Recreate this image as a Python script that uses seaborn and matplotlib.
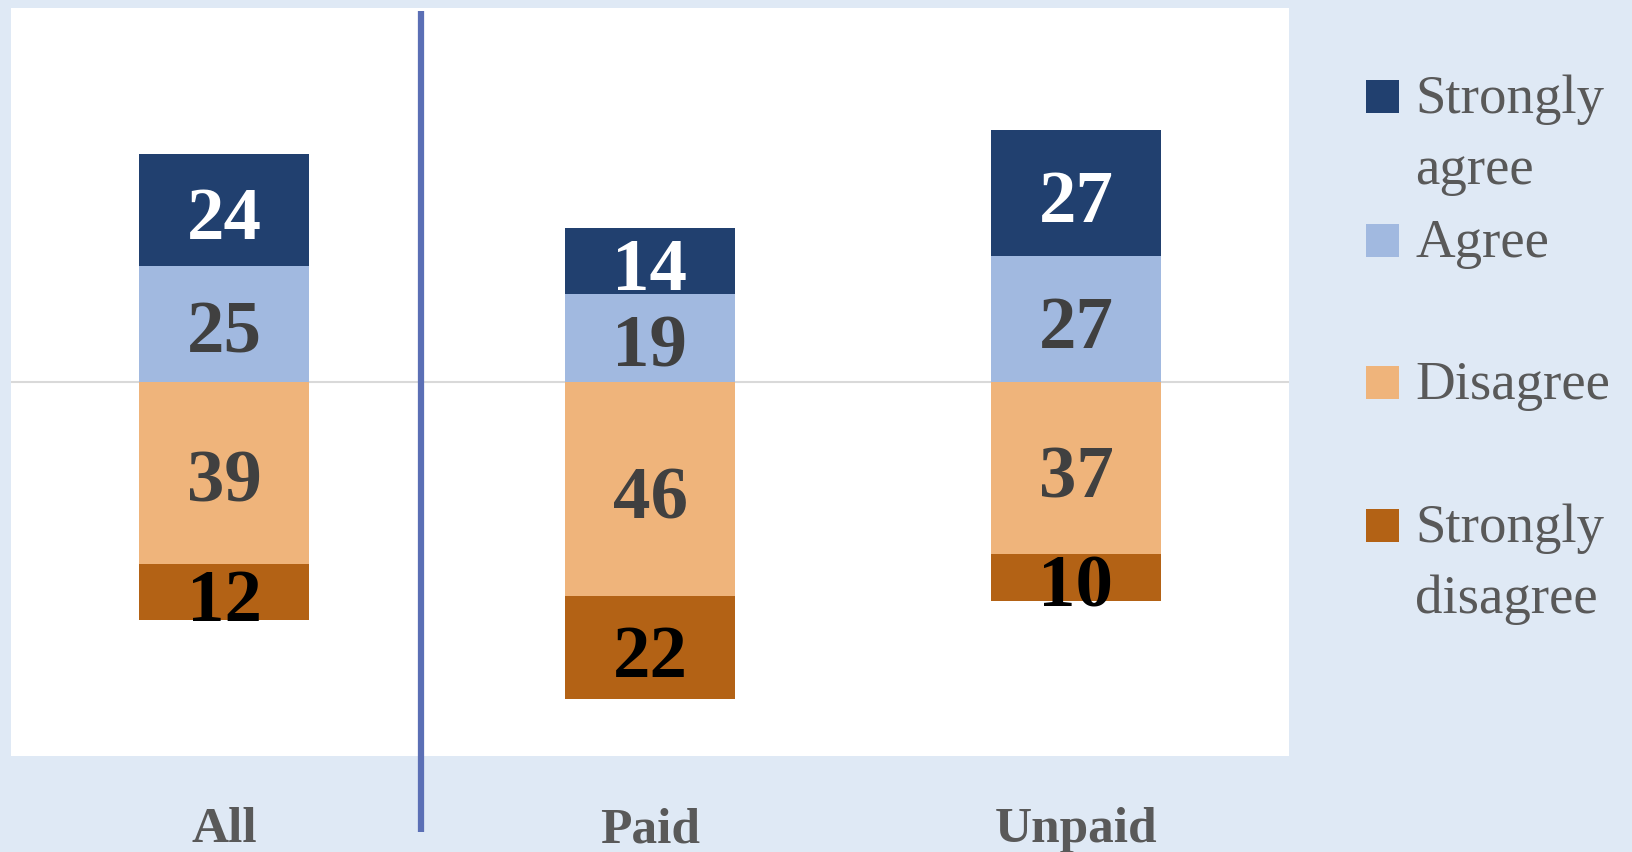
import numpy as np
import matplotlib
matplotlib.use("Agg")
import matplotlib.pyplot as plt
from matplotlib.patches import Rectangle
import seaborn as sns

# ---- data ----
categories = ["All", "Paid", "Unpaid"]
strongly_agree = [24, 14, 27]
agree = [25, 19, 27]
disagree = [39, 46, 37]
strongly_disagree = [12, 22, 10]
series_names = ["Strongly agree", "Agree", "Disagree", "Strongly disagree"]

# ---- style ----
c_sa, c_a, c_d, c_sd = "#21406f", "#a1b9e0", "#efb47b", "#b36215"
W, H = 1632, 852
sns.set_theme(style="white")
plt.rcParams["font.family"] = ["Liberation Serif", "DejaVu Serif"]

fig = plt.figure(figsize=(W / 100, H / 100), dpi=100)
fig.patch.set_facecolor("#dfe9f5")

# plot area in pixels: x 11..1289, y 8..756
ax = fig.add_axes([11 / W, 1 - 756 / H, (1289 - 11) / W, (756 - 8) / H])
ax.set_facecolor("white")

sa = np.array(strongly_agree)
a = np.array(agree)
d = -np.array(disagree)
sd = -np.array(strongly_disagree)

bw = 0.4
sns.barplot(x=categories, y=a, color=c_a, width=bw, saturation=1, ax=ax, linewidth=0)
sns.barplot(x=categories, y=sa, bottom=a, color=c_sa, width=bw, saturation=1, ax=ax, linewidth=0)
sns.barplot(x=categories, y=d, color=c_d, width=bw, saturation=1, ax=ax, linewidth=0)
sns.barplot(x=categories, y=sd, bottom=d, color=c_sd, width=bw, saturation=1, ax=ax, linewidth=0)

label_specs = [
    (agree, "#404040"),
    (strongly_agree, "white"),
    (disagree, "#404040"),
    (strongly_disagree, "black"),
]
for cont, (vals, col) in zip(ax.containers, label_specs):
    anns = ax.bar_label(cont, labels=[str(v) for v in vals], label_type="center",
                        fontsize=54, fontweight="bold", color=col)
    for t in anns:
        t.xyann = (0, -8)

ax.axhline(0, color="#d9d9d9", linewidth=1.5, zorder=0.5)

ax.set_xlim(-0.5, 2.5)
ax.set_ylim(-80.3, 80.3)
ax.set_yticks([])
ax.set_ylabel("")
for s in ax.spines.values():
    s.set_visible(False)
ax.tick_params(axis="x", length=0, pad=37)
ax.set_xticks(range(len(categories)))
ax.set_xticklabels(categories, fontsize=37, fontweight="bold", color="#595959")

# vertical divider between All and Paid
ax.plot([0.462, 0.462], [79.6, -96.6], color="#5b6fb5", linewidth=4.5,
        clip_on=False, zorder=5, solid_capstyle="butt")

# ---- legend (manual) ----
legend_items = [
    (c_sa, ["Strongly", "agree"], 80),
    (c_a, ["Agree"], 224),
    (c_d, ["Disagree"], 366),
    (c_sd, ["Strongly", "disagree"], 509),
]
sq = 33
for col, lines, top in legend_items:
    fig.patches.append(Rectangle((1366 / W, 1 - (top + sq) / H), sq / W, sq / H,
                                 transform=fig.transFigure, facecolor=col,
                                 edgecolor="none"))
    base = top + sq
    for i, ln in enumerate(lines):
        fig.text(1415 / W, 1 - (base + i * 71) / H, ln, fontsize=39.5,
                 color="#595959", va="baseline", ha="left")

fig.savefig("out.png", dpi=100, facecolor=fig.get_facecolor())
